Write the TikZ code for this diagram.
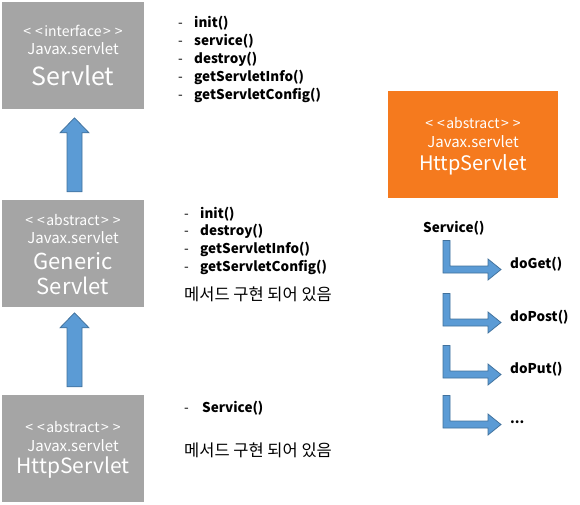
\documentclass[tikz,border=0pt]{standalone}
\usepackage{fontspec}
\setmainfont{Noto Sans CJK KR}
\usetikzlibrary{calc}

\definecolor{boxgrey}{RGB}{165,165,165}
\definecolor{absorange}{RGB}{245,122,30}
\definecolor{arrowfill}{RGB}{91,155,213}
\definecolor{arrowline}{RGB}{65,113,156}

\newcommand{\stereo}[1]{<\kern4pt<\kern1.5pt#1\kern1.5pt>\kern4pt>}

\begin{document}
\begin{tikzpicture}[x=1pt,y=-1pt,
	classbox/.style={fill=#1,minimum width=142pt,minimum height=107pt,inner sep=0pt},
	title/.style={text=white,inner sep=0pt,font=\fontsize{#1}{#1}\selectfont},
	method/.style={anchor=west,inner sep=0pt,font=\fontsize{13.5}{13.5}\selectfont\bfseries},
	note/.style={anchor=west,inner sep=0pt,font=\fontsize{16.5}{16.5}\selectfont},
	call/.style={method,text height=9.5pt,text depth=3pt},
	blockarrow/.style={fill=arrowfill,draw=arrowline,line width=0.75pt,line join=miter}]
	\useasboundingbox (0,0) rectangle (580,504);

	\draw (73,55) node (servlet) [classbox=boxgrey] {};
	\draw (73,253.5) node (generic) [classbox=boxgrey] {};
	\draw (73,448.5) node (http) [classbox=boxgrey] {};
	\draw (473,144.5) node (httpabs) [classbox=absorange,minimum width=170pt] {};

	\node (servletst) [title=14] at (73,31) {\stereo{interface}};
	\node (servletpk) [title=15] at (73,49) {Javax.servlet};
	\node (servletnm) [title=25] at (73,76) {Servlet};
	\node (genericst) [title=14] at (73,220) {\stereo{abstract}};
	\node (genericpk) [title=15] at (73,238) {Javax.servlet};
	\node (genericnm) [title=22] at (73,261) {Generic};
	\node (genericnm2) [title=22] at (73,286) {Servlet};
	\node (httpst) [title=14] at (73,427) {\stereo{abstract}};
	\node (httppk) [title=15] at (73,446) {Javax.servlet};
	\node (httpnm) [title=21] at (73,468) {HttpServlet};
	\node (httpabsst) [title=14] at (473,123) {\stereo{abstract}};
	\node (httpabspk) [title=15] at (473,142) {Javax.servlet};
	\node (httpabsnm) [title=20] at (473,165) {HttpServlet};

	\foreach \m [count=\i] in {init(),service(),destroy(),getServletInfo(),getServletConfig()}
		\node (sm\i) [method] at (178,5+18*\i) {\makebox[16pt][l]{\mdseries -}\m};
	\foreach \m [count=\i] in {init(),destroy(),getServletInfo(),getServletConfig()}
		\node (gm\i) [method] at (184,196.3+17.7*\i) {\makebox[16pt][l]{\mdseries -}\m};
	\node (gnote) [note] at (184,294) {메서드 구현 되어 있음};
	\node (hm1) [method] at (184,408) {\makebox[18pt][l]{\mdseries -}Service()};
	\node (hnote) [note] at (184,450) {메서드 구현 되어 있음};

	\draw (423,228) node (service) [method] {Service()};
	\draw (510,265) node (doget) [call] {doGet()};
	\draw (510,318) node (dopost) [call] {doPost()};
	\draw (510,370) node (doput) [call] {doPut()};
	\draw (510,420) node (more) [call] {...};

	\foreach \low in {generic,http}
		\draw [blockarrow] ($(\low.north)+(-6,-8)$) -- ++(0,-59) -- ++(-7,0) -- ++(14.5,-15) -- ++(14.5,15) -- ++(-7,0) -- ++(0,59) -- cycle;
	\foreach \t in {doget,dopost,doput,more}
		\draw [blockarrow] ($(\t.west)+(-9,4.5)$) -- ++(-13,-10.5) -- ++(0,7) -- ++(-38,0) -- ++(0,-25.5) -- ++(-7,0) -- ++(0,32.5) -- ++(45,0) -- ++(0,7) -- cycle;
\end{tikzpicture}
\end{document}
